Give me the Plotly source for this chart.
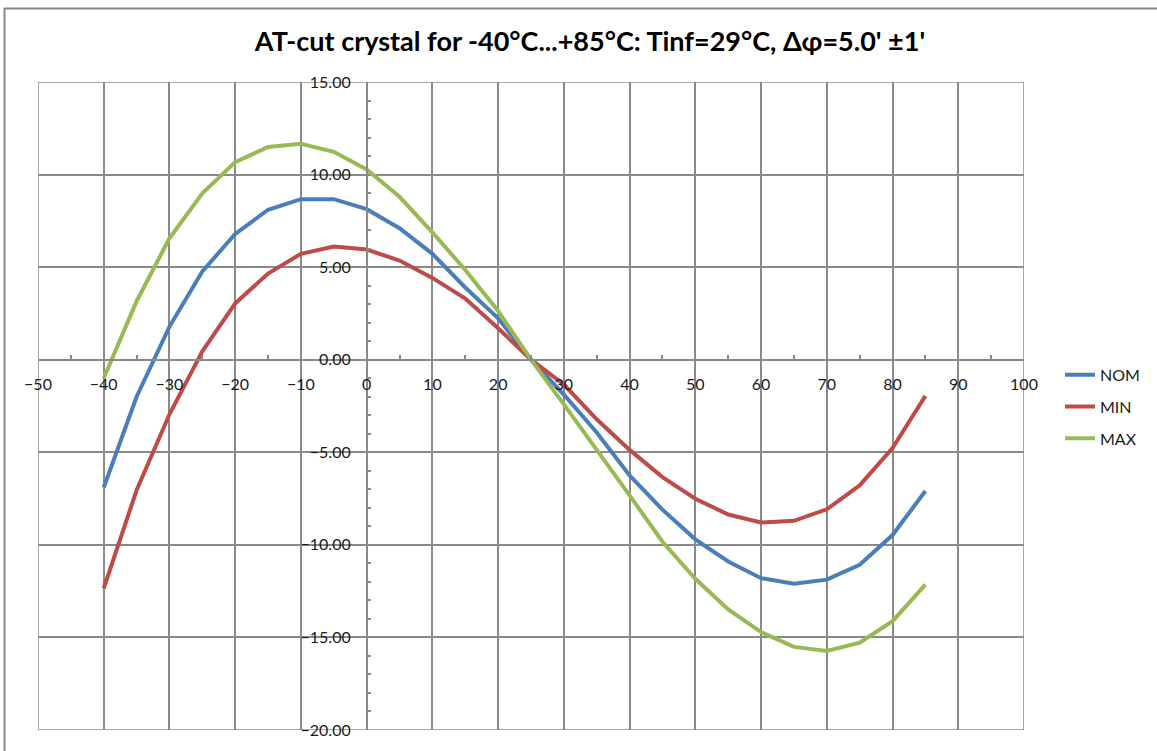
import plotly.graph_objects as go

temps = [-40, -35, -30, -25, -20, -15, -10, -5, 0, 5, 10, 15, 20, 25,
         30, 35, 40, 45, 50, 55, 60, 65, 70, 75, 80, 85]
nom = [-6.9, -2.0, 1.79, 4.77, 6.79, 8.1, 8.67, 8.67, 8.13, 7.1, 5.72, 3.9, 2.24, 0.0,
       -1.88, -3.93, -6.25, -8.1, -9.7, -10.9, -11.8, -12.1, -11.88, -11.08, -9.47, -7.09]
mn = [-12.35, -7.05, -2.95, 0.45, 3.04, 4.65, 5.72, 6.11, 5.95, 5.36, 4.42, 3.3, 1.7, 0.0,
      -1.34, -3.22, -4.87, -6.34, -7.51, -8.36, -8.79, -8.7, -8.08, -6.79, -4.77, -1.95]
mx = [-1.0, 3.16, 6.56, 8.99, 10.67, 11.49, 11.66, 11.23, 10.28, 8.8, 6.88, 4.85, 2.63, 0.0,
      -2.41, -4.83, -7.33, -9.83, -11.83, -13.49, -14.71, -15.51, -15.73, -15.28, -14.12, -12.15]

series = [("NOM", nom, "#4A7EBB"), ("MIN", mn, "#BE4B48"), ("MAX", mx, "#98B954")]

title = "AT-cut crystal for -40°C...+85°C: Tinf=29°C, Δφ=5.0' ±1'"

FONT = "Lato"
GRID = "#8a8a8a"

fig = go.Figure()
for i, (name, vals, col) in enumerate(series):
    fig.add_trace(go.Scatter(x=temps, y=vals, mode="lines", name=name,
                             legendgroup=name,
                             line=dict(color=col, width=4)))

W, H = 1157, 751
L, R, T, B = 38, 133, 82, 16
pw = W - L - R
ph = H - T - B

xr = [-50, 100]
yr = [-20, 15]
xpos = (0 - xr[0]) / (xr[1] - xr[0])
ypos = (0 - yr[0]) / (yr[1] - yr[0])

fig.update_layout(
    width=W, height=H,
    margin=dict(l=L, r=R, t=T, b=B),
    paper_bgcolor="white", plot_bgcolor="white",
    font=dict(family=FONT, size=16, color="#1a1a1a"),
    title=dict(text="<b>" + title + "</b>", x=590 / W, xanchor="center",
               xref="container", y=1 - 42 / H, yanchor="middle", yref="container",
               font=dict(family=FONT, size=27, color="#000000")),
    xaxis=dict(range=xr, dtick=10, tick0=-50, showgrid=True, gridcolor=GRID, gridwidth=1.5,
               zeroline=False, showline=True, linecolor=GRID, linewidth=1.5,
               anchor="free", position=ypos, ticks="", ticklabelstandoff=10,
               minor=dict(dtick=5, tick0=-50, ticks="inside", ticklen=4, tickcolor=GRID,
                          tickwidth=1.5, showgrid=False),
               tickfont=dict(family=FONT, size=16, color="#1a1a1a")),
    yaxis=dict(range=yr, dtick=5, tick0=-20, showgrid=True, gridcolor=GRID, gridwidth=1.5,
               zeroline=False, showline=True, linecolor=GRID, linewidth=1.5,
               anchor="free", position=xpos, ticks="", tickformat=".2f",
               ticklabelstandoff=12,
               minor=dict(dtick=1, tick0=-20, ticks="inside", ticklen=4, tickcolor=GRID,
                          tickwidth=1.5, showgrid=False),
               tickfont=dict(family=FONT, size=16, color="#1a1a1a")),
    legend=dict(x=(1060 - L) / pw, xanchor="left", y=(735 - 360) / ph,
                yanchor="top", tracegroupgap=8, traceorder="grouped",
                font=dict(family=FONT, size=16, color="#1a1a1a"),
                bgcolor="rgba(0,0,0,0)"),
    showlegend=True,
)

# plot area frame
fig.add_shape(type="rect", xref="x", yref="y", x0=xr[0], x1=xr[1], y0=yr[0], y1=yr[1],
              line=dict(color=GRID, width=1.5), layer="below")
# outer chart border
fig.add_shape(type="rect", xref="paper", yref="paper",
              x0=(4.5 - L) / pw, x1=(W + 20 - L) / pw,
              y0=-(B + 20) / ph, y1=(735 - 8) / ph,
              line=dict(color="#8a8a8a", width=2), layer="below")

fig.write_html("out.html", config={"displayModeBar": False},
               post_script="document.body.style.margin='0';document.body.style.overflow='hidden';")
